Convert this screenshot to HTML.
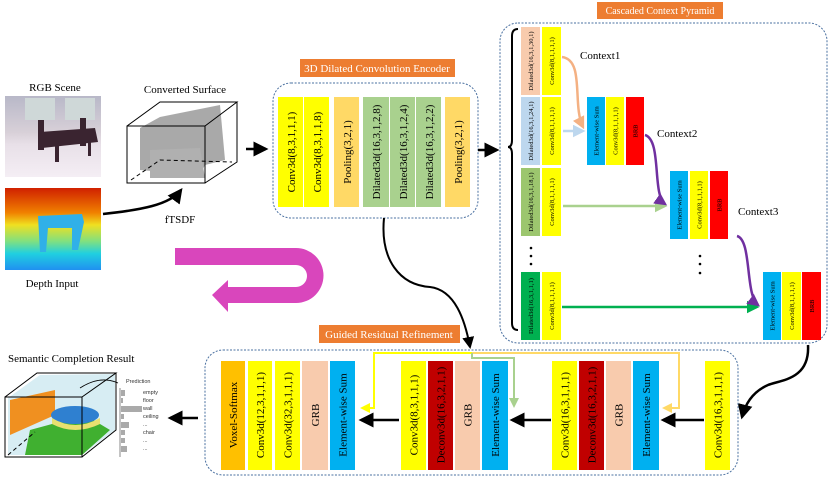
<!DOCTYPE html>
<html><head><meta charset="utf-8"><style>
html,body{margin:0;padding:0;background:#fff;}
svg{display:block;font-family:"Liberation Serif",serif;}
</style></head><body>
<svg width="831" height="480" viewBox="0 0 831 480" xmlns="http://www.w3.org/2000/svg">
<defs>
<marker id="ab" markerWidth="6" markerHeight="6" refX="5" refY="3" orient="auto" markerUnits="strokeWidth"><path d="M0,0 L6,3 L0,6 Z" fill="#000"/></marker>
<marker id="ay" markerWidth="5" markerHeight="5" refX="4" refY="2.5" orient="auto" markerUnits="strokeWidth"><path d="M0,0 L5,2.5 L0,5 Z" fill="#FFFF00"/></marker>
<marker id="ao" markerWidth="5" markerHeight="5" refX="4" refY="2.5" orient="auto" markerUnits="strokeWidth"><path d="M0,0 L5,2.5 L0,5 Z" fill="#FFD966"/></marker>
<marker id="ag" markerWidth="5" markerHeight="5" refX="4" refY="2.5" orient="auto" markerUnits="strokeWidth"><path d="M0,0 L5,2.5 L0,5 Z" fill="#A9D18E"/></marker>
<marker id="apk" markerWidth="5" markerHeight="5" refX="4" refY="2.5" orient="auto" markerUnits="strokeWidth"><path d="M0,0 L5,2.5 L0,5 Z" fill="#F4B183"/></marker>
<marker id="alb" markerWidth="5" markerHeight="5" refX="4" refY="2.5" orient="auto" markerUnits="strokeWidth"><path d="M0,0 L5,2.5 L0,5 Z" fill="#BDD7EE"/></marker>
<marker id="ap" markerWidth="5" markerHeight="5" refX="4" refY="2.5" orient="auto" markerUnits="strokeWidth"><path d="M0,0 L5,2.5 L0,5 Z" fill="#7030A0"/></marker>
<marker id="adg" markerWidth="5" markerHeight="5" refX="4" refY="2.5" orient="auto" markerUnits="strokeWidth"><path d="M0,0 L5,2.5 L0,5 Z" fill="#00B050"/></marker>
<linearGradient id="dep" x1="0" y1="0" x2="0" y2="1">
<stop offset="0" stop-color="#d02000"/><stop offset="0.3" stop-color="#f08000"/><stop offset="0.45" stop-color="#f0e020"/><stop offset="0.65" stop-color="#80e080"/><stop offset="0.8" stop-color="#20d0e0"/><stop offset="1" stop-color="#2090f0"/></linearGradient>
<linearGradient id="rgb" x1="0" y1="0" x2="0" y2="1">
<stop offset="0" stop-color="#b8b8c8"/><stop offset="0.45" stop-color="#d8d0d8"/><stop offset="0.6" stop-color="#e8e0e8"/><stop offset="1" stop-color="#f4eef4"/></linearGradient>
</defs>

<!-- Left images -->
<text x="55" y="91" font-size="11" text-anchor="middle">RGB Scene</text>
<rect x="5" y="96" width="96" height="81" fill="url(#rgb)"/>
<rect x="25" y="98" width="30" height="22" fill="#cfd8d8"/>
<rect x="65" y="98" width="30" height="22" fill="#cfd8d8"/>
<path d="M40,132 L95,128 L98,142 L42,148 Z" fill="#3a2430"/>
<rect x="38" y="120" width="6" height="30" fill="#3a2430"/>
<rect x="80" y="118" width="6" height="28" fill="#3a2430"/>
<rect x="55" y="146" width="4" height="16" fill="#3a2430"/>
<rect x="88" y="142" width="3" height="14" fill="#3a2430"/>
<rect x="5" y="188" width="96" height="82" fill="url(#dep)"/>
<path d="M38,216 L82,214 L84,222 L78,250 L72,250 L72,228 L48,228 L46,252 L40,252 Z" fill="#30b0e8"/>
<text x="52" y="287" font-size="11" text-anchor="middle">Depth Input</text>

<text x="185" y="93" font-size="11" text-anchor="middle">Converted Surface</text>
<path d="M140,128 L160,117 L220,105 L225,160 L205,165 L200,175 L140,170 Z" fill="#9a9a9a" opacity="0.85"/>
<path d="M150,150 L200,148 L205,178 L150,178 Z" fill="#b0b0b0"/>
<rect x="127" y="126" width="78" height="57" fill="none" stroke="#000" stroke-width="1"/>
<path d="M127,126 L160,102 L237,102 L205,126 M237,102 L237,162 L205,183" fill="none" stroke="#000"/>
<path d="M131,180 L160,160 L232,162" fill="none" stroke="#000" stroke-dasharray="4,3"/>
<text x="180" y="223" font-size="11" text-anchor="middle">fTSDF</text>
<path d="M103,214 C140,210 170,205 181,190" fill="none" stroke="#000" stroke-width="2.5" marker-end="url(#ab)"/>
<line x1="246" y1="149" x2="266" y2="149" stroke="#000" stroke-width="2.5" marker-end="url(#ab)"/>

<!-- Encoder -->
<rect x="300" y="59" width="155" height="18" fill="#ED7D31"/>
<text x="377" y="72" font-size="11" fill="#fff" text-anchor="middle">3D Dilated Convolution Encoder</text>
<rect x="273" y="83" width="205" height="135" rx="18" fill="none" stroke="#4a70a0" stroke-dasharray="2,1.5"/>
<g font-size="11" text-anchor="middle">
<rect x="278" y="97" width="25" height="110" fill="#FFFF00"/><text transform="translate(291,152) rotate(-90)" dy="4">Conv3d(8,3,1,1,1)</text>
<rect x="304" y="97" width="25" height="110" fill="#FFFF00"/><text transform="translate(317,152) rotate(-90)" dy="4">Conv3d(8,3,1,1,8)</text>
<rect x="334" y="97" width="25" height="110" fill="#FFD966"/><text transform="translate(347,152) rotate(-90)" dy="4">Pooling(3,2,1)</text>
<rect x="363" y="97" width="26" height="110" fill="#A9D18E"/><text transform="translate(376,152) rotate(-90)" dy="4">Dilated3d(16,3,1,2,8)</text>
<rect x="390" y="97" width="25" height="110" fill="#A9D18E"/><text transform="translate(403,152) rotate(-90)" dy="4">Dilated3d(16,3,1,2,4)</text>
<rect x="416" y="97" width="25" height="110" fill="#A9D18E"/><text transform="translate(429,152) rotate(-90)" dy="4">Dilated3d(16,3,1,2,2)</text>
<rect x="445" y="97" width="25" height="110" fill="#FFD966"/><text transform="translate(458,152) rotate(-90)" dy="4">Pooling(3,2,1)</text>
</g>
<line x1="478" y1="150" x2="497" y2="150" stroke="#000" stroke-width="2.5" marker-end="url(#ab)"/>

<!-- CCP -->
<rect x="597" y="2" width="126" height="17" fill="#ED7D31"/>
<text x="660" y="14" font-size="10" fill="#fff" text-anchor="middle">Cascaded Context Pyramid</text>
<rect x="500" y="23" width="327" height="320" rx="18" fill="none" stroke="#4a70a0" stroke-dasharray="2,1.5"/>
<path d="M518,29 Q512,29 512,36 L512,140 Q512,147 508,147 Q512,147 512,154 L512,323 Q512,330 518,330" fill="none" stroke="#000" stroke-width="2"/>
<g font-size="6.5" text-anchor="middle">
<rect x="521" y="27" width="19" height="68" fill="#F8CBAD"/><text transform="translate(530.5,61) rotate(-90)" dy="2.5">Dilated3d(16,3,1,30,1)</text>
<rect x="542" y="27" width="19" height="68" fill="#FFFF00"/><text transform="translate(551.5,61) rotate(-90)" dy="2.5">Conv3d(8,1,1,1,1)</text>
<rect x="521" y="97" width="19" height="68" fill="#BDD7EE"/><text transform="translate(530.5,131) rotate(-90)" dy="2.5">Dilated3d(16,3,1,24,1)</text>
<rect x="542" y="97" width="19" height="68" fill="#FFFF00"/><text transform="translate(551.5,131) rotate(-90)" dy="2.5">Conv3d(8,1,1,1,1)</text>
<rect x="521" y="168" width="19" height="68" fill="#9CC66E"/><text transform="translate(530.5,202) rotate(-90)" dy="2.5">Dilated3d(16,3,1,18,1)</text>
<rect x="542" y="168" width="19" height="68" fill="#FFFF00"/><text transform="translate(551.5,202) rotate(-90)" dy="2.5">Conv3d(8,1,1,1,1)</text>
<rect x="521" y="272" width="19" height="68" fill="#00B050"/><text transform="translate(530.5,306) rotate(-90)" dy="2.5">Dilated3d(16,3,1,1,1)</text>
<rect x="542" y="272" width="19" height="68" fill="#FFFF00"/><text transform="translate(551.5,306) rotate(-90)" dy="2.5">Conv3d(8,1,1,1,1)</text>

<rect x="587" y="97" width="18" height="68" fill="#00B0F0"/><text transform="translate(596,131) rotate(-90)" dy="2.5">Element-wise Sum</text>
<rect x="606" y="97" width="18" height="68" fill="#FFFF00"/><text transform="translate(615,131) rotate(-90)" dy="2.5">Conv3d(8,1,1,1,1)</text>
<rect x="626" y="97" width="18" height="68" fill="#FF0000"/><text transform="translate(635,131) rotate(-90)" dy="2.5">BRB</text>
<rect x="670" y="171" width="18" height="68" fill="#00B0F0"/><text transform="translate(679,205) rotate(-90)" dy="2.5">Element-wise Sum</text>
<rect x="690" y="171" width="18" height="68" fill="#FFFF00"/><text transform="translate(699,205) rotate(-90)" dy="2.5">Conv3d(8,1,1,1,1)</text>
<rect x="710" y="171" width="18" height="68" fill="#FF0000"/><text transform="translate(719,205) rotate(-90)" dy="2.5">BRB</text>
<rect x="763" y="272" width="18" height="68" fill="#00B0F0"/><text transform="translate(772,306) rotate(-90)" dy="2.5">Element-wise Sum</text>
<rect x="782" y="272" width="19" height="68" fill="#FFFF00"/><text transform="translate(791.5,306) rotate(-90)" dy="2.5">Conv3d(8,1,1,1,1)</text>
<rect x="802" y="272" width="19" height="68" fill="#FF0000"/><text transform="translate(811.5,306) rotate(-90)" dy="2.5">BRB</text>
</g>
<g font-size="11">
<text x="580" y="59">Context1</text>
<text x="657" y="137">Context2</text>
<text x="738" y="215">Context3</text>
</g>
<g fill="#000">
<circle cx="531" cy="248" r="1.3"/><circle cx="531" cy="256" r="1.3"/><circle cx="531" cy="264" r="1.3"/>
<circle cx="700" cy="256" r="1.3"/><circle cx="700" cy="264" r="1.3"/><circle cx="700" cy="273" r="1.3"/>
</g>
<path d="M562,57 C585,60 572,105 583,127" fill="none" stroke="#F4B183" stroke-width="2.5" marker-end="url(#apk)"/>
<line x1="563" y1="131" x2="583" y2="131" stroke="#BDD7EE" stroke-width="2.5" marker-end="url(#alb)"/>
<line x1="563" y1="206" x2="665" y2="206" stroke="#A9D18E" stroke-width="2.5" marker-end="url(#ag)"/>
<line x1="562" y1="307" x2="757" y2="307" stroke="#00B050" stroke-width="2.5" marker-end="url(#adg)"/>
<path d="M645,135 C662,140 652,195 665,204" fill="none" stroke="#7030A0" stroke-width="2.5" marker-end="url(#ap)"/>
<path d="M737,236 C752,240 745,295 758,305" fill="none" stroke="#7030A0" stroke-width="2.5" marker-end="url(#ap)"/>

<!-- magenta U arrow -->
<path d="M175,248 L296,248 A27.5,27.5 0 0 1 296,303 L228,303 L228,312 L212,295 L228,280 L228,287 L296,287 A11,11 0 0 0 296,265 L175,265 Z" fill="#D946BC"/>

<!-- connector from encoder to refinement -->
<path d="M384,218 C380,260 400,285 430,287 C455,290 465,320 470,347" fill="none" stroke="#000" stroke-width="2" marker-end="url(#ab)"/>
<!-- connector from CCP to refinement -->
<path d="M808,345 C810,380 780,380 768,385 C752,392 745,405 742,417" fill="none" stroke="#000" stroke-width="2.5" marker-end="url(#ab)"/>

<!-- Refinement -->
<rect x="319" y="325" width="141" height="18" fill="#ED7D31"/>
<text x="389" y="338" font-size="11" fill="#fff" text-anchor="middle">Guided Residual Refinement</text>
<rect x="205" y="350" width="533" height="125" rx="18" fill="none" stroke="#4a70a0" stroke-dasharray="2,1.5"/>
<g font-size="11" text-anchor="middle">
<rect x="221" y="361" width="24" height="109" fill="#FFC000"/><text transform="translate(233,415) rotate(-90)" dy="4">Voxel-Softmax</text>
<rect x="248" y="361" width="24" height="109" fill="#FFFF00"/><text transform="translate(260,415) rotate(-90)" dy="4">Conv3d(12,3,1,1,1)</text>
<rect x="275" y="361" width="25" height="109" fill="#FFFF00"/><text transform="translate(287.5,415) rotate(-90)" dy="4">Conv3d(32,3,1,1,1)</text>
<rect x="302" y="361" width="26" height="109" fill="#F8CBAD"/><text transform="translate(315,415) rotate(-90)" dy="4">GRB</text>
<rect x="330" y="361" width="25" height="109" fill="#00B0F0"/><text transform="translate(342.5,415) rotate(-90)" dy="4">Element-wise Sum</text>

<rect x="401" y="361" width="25" height="109" fill="#FFFF00"/><text transform="translate(413.5,415) rotate(-90)" dy="4">Conv3d(8,3,1,1,1)</text>
<rect x="428" y="361" width="25" height="109" fill="#C00000"/><text transform="translate(440.5,415) rotate(-90)" dy="4">Deconv3d(16,3,2,1,1)</text>
<rect x="455" y="361" width="25" height="109" fill="#F8CBAD"/><text transform="translate(467.5,415) rotate(-90)" dy="4">GRB</text>
<rect x="482" y="361" width="26" height="109" fill="#00B0F0"/><text transform="translate(495,415) rotate(-90)" dy="4">Element-wise Sum</text>

<rect x="552" y="361" width="25" height="109" fill="#FFFF00"/><text transform="translate(564.5,415) rotate(-90)" dy="4">Conv3d(16,3,1,1,1)</text>
<rect x="579" y="361" width="25" height="109" fill="#C00000"/><text transform="translate(591.5,415) rotate(-90)" dy="4">Deconv3d(16,3,2,1,1)</text>
<rect x="606" y="361" width="25" height="109" fill="#F8CBAD"/><text transform="translate(618.5,415) rotate(-90)" dy="4">GRB</text>
<rect x="633" y="361" width="26" height="109" fill="#00B0F0"/><text transform="translate(646,415) rotate(-90)" dy="4">Element-wise Sum</text>

<rect x="705" y="361" width="25" height="109" fill="#FFFF00"/><text transform="translate(717.5,415) rotate(-90)" dy="4">Conv3d(16,3,1,1,1)</text>
</g>
<line x1="399" y1="420" x2="361" y2="420" stroke="#000" stroke-width="2.5" marker-end="url(#ab)"/>
<line x1="551" y1="420" x2="512" y2="420" stroke="#000" stroke-width="2.5" marker-end="url(#ab)"/>
<line x1="704" y1="420" x2="663" y2="420" stroke="#000" stroke-width="2.5" marker-end="url(#ab)"/>
<path d="M472,353 L374,353 L374,408 L362,408" fill="none" stroke="#FFFF00" stroke-width="2" marker-end="url(#ay)"/>
<path d="M472,353 L679,353 L679,408 L664,408" fill="none" stroke="#FFD966" stroke-width="2" marker-end="url(#ao)"/>
<path d="M472,353 L472,358 L514,358 L514,406" fill="none" stroke="#A9D18E" stroke-width="2" marker-end="url(#ag)"/>

<!-- Semantic result -->
<text x="8" y="362" font-size="11">Semantic Completion Result</text>
<path d="M40,375 L115,374 L115,430 L82,455 L8,455 L8,398 Z" fill="#cde8f0" opacity="0.8"/>
<path d="M10,400 L55,390 L55,415 L10,435 Z" fill="#f09020"/>
<path d="M30,430 L85,415 L110,430 L82,455 L25,455 Z" fill="#40b030"/>
<ellipse cx="75" cy="415" rx="24" ry="9" fill="#2f80d0"/>
<path d="M52,418 Q75,432 100,418 L100,424 Q75,436 52,424 Z" fill="#e8e070"/>
<rect x="5" y="397" width="77" height="60" fill="none" stroke="#000"/>
<path d="M5,397 L37,373 L116,373 L82,397 M116,373 L116,430 L82,457" fill="none" stroke="#000"/>
<path d="M8,455 L35,432" fill="none" stroke="#000" stroke-dasharray="4,3"/>
<path d="M80,388 Q100,375 118,383" fill="none" stroke="#000" stroke-width="0.8"/>
<g font-family="Liberation Sans, sans-serif" font-size="5.5" fill="#333">
<text x="126" y="383">Prediction</text>
<text x="143" y="394">empty</text>
<text x="143" y="402">floor</text>
<text x="143" y="410">wall</text>
<text x="143" y="418">ceiling</text>
<text x="143" y="426">...</text>
<text x="143" y="434">chair</text>
<text x="143" y="442">...</text>
<text x="143" y="450">...</text>
</g>
<line x1="120" y1="388" x2="120" y2="457" stroke="#888" stroke-width="1"/>
<g fill="#aaa">
<rect x="121" y="390" width="4" height="6"/><rect x="121" y="398" width="2" height="5"/><rect x="121" y="406" width="21" height="6"/><rect x="121" y="414" width="3" height="5"/><rect x="121" y="422" width="8" height="6"/><rect x="121" y="430" width="4" height="5"/><rect x="121" y="438" width="4" height="5"/><rect x="121" y="446" width="6" height="6"/>
</g>
<line x1="198" y1="418" x2="170" y2="418" stroke="#000" stroke-width="2.5" marker-end="url(#ab)"/>
</svg>
</body></html>
